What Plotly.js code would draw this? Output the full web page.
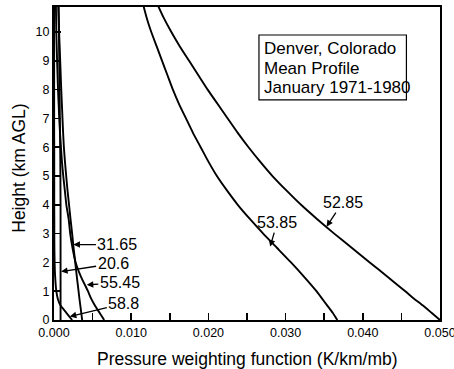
<!DOCTYPE html>
<html>
<head>
<meta charset="utf-8">
<script src="https://cdn.plot.ly/plotly-3.0.1.min.js"></script>
<style>
  html, body { margin: 0; padding: 0; background: #fff; }
  #chart { width: 454px; height: 369px; }
</style>
</head>
<body>
<div id="chart"></div>
<script>
// Height above ground level (km) shared by all weighting-function profiles
const heightKm = [0, 0.25, 0.5, 0.75, 1, 1.5, 2, 2.5, 3, 3.5, 4, 4.5, 5, 5.5, 6, 6.5, 7, 7.5, 8, 8.5, 9, 9.5, 10, 10.5, 10.9];

// Pressure weighting function (K/km/mb) for each frequency channel
const w5285 = [0.0500, 0.0489, 0.0478, 0.0466, 0.0455, 0.0432, 0.0409, 0.0386, 0.0363, 0.0341, 0.0320, 0.0301, 0.0283, 0.0267, 0.0252, 0.0238, 0.0225, 0.0212, 0.0199, 0.0187, 0.0175, 0.0163, 0.0152, 0.0142, 0.0135];
const w5385 = [0.0367, 0.0361, 0.0354, 0.0347, 0.0340, 0.0324, 0.0307, 0.0289, 0.0271, 0.0254, 0.0238, 0.0224, 0.0211, 0.0200, 0.0190, 0.0180, 0.0171, 0.0162, 0.0154, 0.0147, 0.0140, 0.0133, 0.0126, 0.0120, 0.0116];
const w3165 = [0.00365, 0.00353, 0.00341, 0.00329, 0.00318, 0.00296, 0.00275, 0.00254, 0.00235, 0.00214, 0.00195, 0.00175, 0.00158, 0.00142, 0.00128, 0.00118, 0.00110, 0.00102, 0.00094, 0.00087, 0.00080, 0.00073, 0.00066, 0.00060, 0.00055];
const w5545 = [0.0065, 0.0059, 0.0053, 0.0048, 0.0044, 0.0035, 0.0028, 0.0024, 0.0021, 0.0019, 0.0016, 0.0014, 0.0012, 0.00103, 0.0009, 0.00078, 0.00068, 0.0006, 0.00052, 0.00046, 0.0004, 0.00035, 0.0003, 0.00027, 0.00025];
const w206  = [0.00085, 0.00085, 0.00085, 0.00085, 0.00085, 0.00085, 0.00085, 0.00085, 0.00085, 0.00085, 0.00085, 0.00084, 0.00083, 0.00082, 0.00080, 0.00078, 0.00076, 0.00074, 0.00072, 0.00070, 0.00068, 0.00066, 0.00064, 0.00062, 0.00060];
const w588  = [0.00235, 0.00160, 0.00085, 0.00048, 0.00030, 0.00015, 0.00008, 0.00005, 0.00004, 0.00004, 0.00003, 0.00003, 0.00003, 0.00003, 0.00003, 0.00002, 0.00002, 0.00002, 0.00002, 0.00002, 0.00002, 0.00002, 0.00002, 0.00002, 0.00002];

const channels = ['52.85', '53.85', '31.65', '55.45', '20.6', '58.8'];
const profiles = [w5285, w5385, w3165, w5545, w206, w588];

const FONT = 'Liberation Sans, Arial, Helvetica, sans-serif';

const traces = profiles.map((w, i) => ({
  type: 'scatter',
  mode: 'lines',
  name: channels[i],
  x: w,
  y: heightKm,
  line: { color: '#000', width: 1.9, shape: 'spline', smoothing: 0.5 },
  hoverinfo: 'skip'
}));

// Channel labels with arrows pointing at their curves: [text, x tip, y tip, ax, ay]
const labelSpecs = [
  ['31.65', 0.00252, 2.62, 44, 0],
  ['20.6',  0.00092, 1.68, 52, -8],
  ['55.45', 0.00425, 1.22, 33, -2],
  ['58.8',  0.00205, 0.12, 54, -13],
  ['53.85', 0.0280, 2.55, 7, -24],
  ['52.85', 0.0353, 3.24, 16, -24]
];

const annotations = labelSpecs.map(s => ({
  text: s[0], x: s[1], y: s[2], xref: 'x', yref: 'y',
  ax: s[3], ay: s[4], showarrow: true,
  arrowhead: 2, arrowsize: 1, arrowwidth: 1.3, arrowcolor: '#000', standoff: 0,
  font: { family: FONT, size: 16, color: '#000' }
}));

// Station caption lines inside a framed box
const caption = ['Denver, Colorado', 'Mean Profile', 'January 1971-1980'];
const captionY = [0.869, 0.802, 0.744];
caption.forEach((t, i) => annotations.push({
  text: t, xref: 'paper', yref: 'paper', x: 0.540, y: captionY[i],
  xanchor: 'left', yanchor: 'middle', showarrow: false,
  font: { family: FONT, size: 17, color: '#000' }
}));

// Axis titles, placed in the margins
const xTitle = 'Pressure weighting function (K/km/mb)';
const yTitle = 'Height (km AGL)';
annotations.push({
  text: xTitle, xref: 'paper', yref: 'paper', x: 0.5, y: -0.125,
  xanchor: 'center', yanchor: 'middle', showarrow: false,
  font: { family: FONT, size: 17.5, color: '#000' }
});
annotations.push({
  text: yTitle, xref: 'paper', yref: 'paper', x: -0.091, y: 0.486,
  xanchor: 'center', yanchor: 'middle', showarrow: false, textangle: -90,
  font: { family: FONT, size: 17.5, color: '#000' }
});

const layout = {
  width: 454, height: 369,
  margin: { l: 54, r: 14, t: 7, b: 49 },
  paper_bgcolor: '#fff', plot_bgcolor: '#fff',
  showlegend: false,
  font: { family: FONT, color: '#000' },
  xaxis: {
    range: [0, 0.050], dtick: 0.010, tick0: 0, tickformat: '.3f',
    ticks: 'inside', ticklen: 7, tickwidth: 1.5, tickcolor: '#000',
    minor: { dtick: 0.005, ticks: 'inside', ticklen: 7, tickwidth: 1.5, tickcolor: '#000', showgrid: false },
    showline: true, linecolor: '#000', linewidth: 2, mirror: true,
    showgrid: false, zeroline: false, ticklabeloverflow: 'allow',
    tickfont: { family: FONT, size: 12.5, color: '#000' }
  },
  yaxis: {
    range: [0, 10.87], dtick: 1, tick0: 0,
    ticks: 'inside', ticklen: 7, tickwidth: 1.5, tickcolor: '#000',
    showline: true, linecolor: '#000', linewidth: 2, mirror: true,
    showgrid: false, zeroline: false,
    tickfont: { family: FONT, size: 12.5, color: '#000' }
  },
  shapes: [{
    type: 'rect', xref: 'paper', yref: 'paper',
    x0: 0.531, x1: 0.913, y0: 0.703, y1: 0.9105,
    line: { color: '#000', width: 1.2 }, fillcolor: '#fff', layer: 'below'
  }],
  annotations: annotations
};

Plotly.newPlot('chart', traces, layout, { staticPlot: true, displayModeBar: false });
</script>
</body>
</html>
